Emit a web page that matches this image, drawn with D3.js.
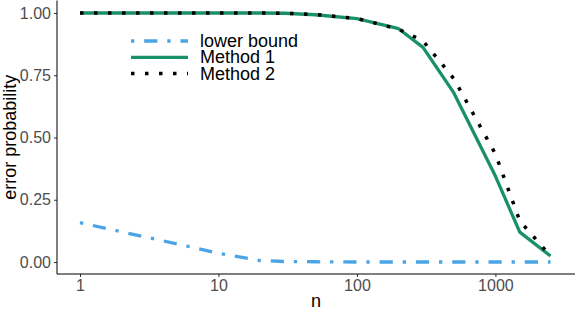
<!DOCTYPE html>
<html>
<head>
<meta charset="utf-8">
<script src="https://cdn.jsdelivr.net/npm/d3@7"></script>
<style>
  body { margin: 0; background: #fff; }
  svg { display: block; font-family: "Liberation Sans", Arial, sans-serif; }
</style>
</head>
<body>
<div class="chart"></div>
<script>
var width = 576, height = 310;

// data
var ns = [1, 2, 5, 10, 20, 30, 50, 100, 200, 300, 500, 1000, 1500, 2500];
var lowerBound = [0.158, 0.121, 0.073, 0.035, 0.006, 0.002, 0.001, 0, 0, 0, 0, 0, 0, 0];
var method1 = [1, 1, 1, 1, 1, 0.999, 0.993, 0.977, 0.937, 0.862, 0.68, 0.345, 0.12, 0.024];
var method2 = [1, 1, 1, 1, 1, 0.999, 0.994, 0.978, 0.935, 0.888, 0.737, 0.434, 0.165, 0.024];
var xTicks = [1, 10, 100, 1000];
var yTicks = [0, 0.25, 0.5, 0.75, 1];

var seriesNames = ["lower bound", "Method 1", "Method 2"];
var series = [
  {name: seriesNames[0], values: lowerBound, color: "#4aa5e6", width: 3.3, dash: "3.3,9.9,13.2,9.9"},
  {name: seriesNames[1], values: method1, color: "#199166", width: 3.3, dash: null},
  {name: seriesNames[2], values: method2, color: "#000000", width: 3.5, dash: "3.5,10.5"}
];

var panel = {left: 57, right: 575, top: 0.5, bottom: 274};

var x = d3.scaleLog().domain([1, 2500]).range([80, 550.5]);
var y = d3.scaleLinear().domain([0, 1]).range([262, 13]);

var svg = d3.select(".chart").append("svg")
  .attr("width", width)
  .attr("height", height);

// lines
var line = d3.line()
  .x(function(d) { return x(d[0]); })
  .y(function(d) { return y(d[1]); });

series.forEach(function(s) {
  var pts = ns.map(function(n, i) { return [n, s.values[i]]; });
  svg.append("path")
    .datum(pts)
    .attr("d", line)
    .attr("fill", "none")
    .attr("stroke", s.color)
    .attr("stroke-width", s.width)
    .attr("stroke-dasharray", s.dash)
    .attr("stroke-linejoin", "round");
});

// axes
var xAxis = d3.axisBottom(x).tickValues(xTicks).tickFormat(d3.format("d")).tickSize(3).tickPadding(3);
var yAxis = d3.axisLeft(y).tickValues(yTicks).tickFormat(d3.format(".2f")).tickSize(3).tickPadding(3);

var gx = svg.append("g").attr("transform", "translate(0," + panel.bottom + ")").call(xAxis);
var gy = svg.append("g").attr("transform", "translate(" + panel.left + ",0)").call(yAxis);

[gx, gy].forEach(function(g) {
  g.select(".domain").remove();
  g.selectAll(".tick line").attr("stroke", "#333");
  g.selectAll(".tick text").attr("fill", "#4d4d4d").attr("font-size", 16)
    .attr("font-family", "Liberation Sans, Arial, sans-serif");
});

svg.append("line")
  .attr("x1", panel.left).attr("x2", panel.right)
  .attr("y1", panel.bottom).attr("y2", panel.bottom)
  .attr("stroke", "#000").attr("stroke-width", 1);
svg.append("line")
  .attr("x1", panel.left).attr("x2", panel.left)
  .attr("y1", panel.top).attr("y2", panel.bottom)
  .attr("stroke", "#000").attr("stroke-width", 1);

// axis titles
svg.append("text")
  .attr("x", (panel.left + panel.right) / 2)
  .attr("y", 307)
  .attr("text-anchor", "middle")
  .attr("font-size", 18)
  .text("n");

svg.append("text")
  .attr("transform", "translate(16," + (panel.top + panel.bottom) / 2 + ") rotate(-90)")
  .attr("text-anchor", "middle")
  .attr("font-size", 18)
  .text("error probability");

// legend
var legend = svg.append("g").attr("transform", "translate(131,41)");
series.forEach(function(s, i) {
  var row = legend.append("g").attr("transform", "translate(0," + (i * 16.3) + ")");
  row.append("line")
    .attr("x1", 0).attr("x2", 57)
    .attr("stroke", s.color)
    .attr("stroke-width", s.width)
    .attr("stroke-dasharray", s.dash);
  row.append("text")
    .attr("x", 69)
    .attr("y", 6)
    .attr("font-size", 18)
    .text(s.name);
});
</script>
</body>
</html>
